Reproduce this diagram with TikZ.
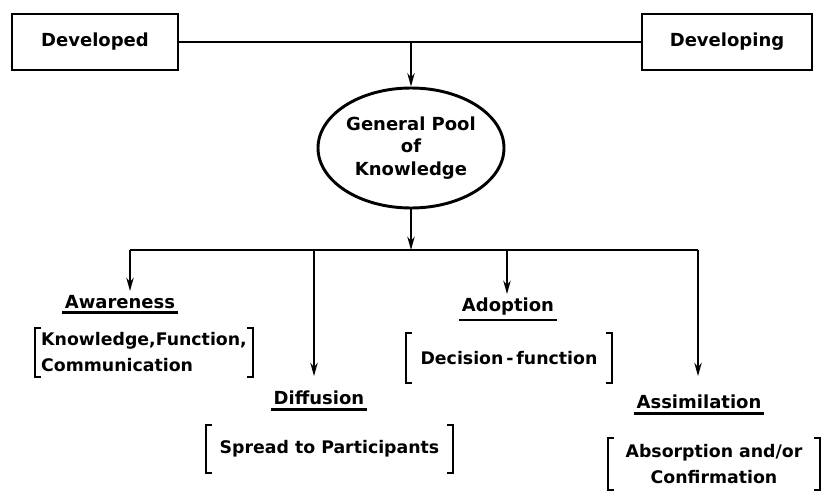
\documentclass[tikz,border=0pt]{standalone}
\usepackage{fontspec}
\setmainfont{DejaVu Sans}
\usetikzlibrary{calc,arrows.meta,shapes.geometric}
\tikzset{
 country/.style={draw, line width=2pt, minimum height=42pt, inner sep=0pt,
  font=\fontsize{13.5}{17}\selectfont\bfseries},
 pool/.style={ellipse, draw, line width=2.2pt, inner sep=0pt, minimum width=139.5pt,
  minimum height=90pt, align=center, font=\fontsize{13.5}{17}\selectfont\bfseries},
 link/.style={line width=1.5pt},
 arr/.style={link, -{Stealth[length=10pt,width=5.5pt]}},
 stage/.style={inner xsep=2pt, inner ysep=3pt, font=\fontsize{13.5}{17}\selectfont\bfseries},
 uline/.style={line width=2.2pt},
 detail/.style={inner sep=0pt, font=\fontsize{13}{19.5}\selectfont\bfseries},
 bracket/.style={line width=1.8pt},
}
\newcommand{\bracketNode}[1]{%
    \draw[bracket] ($(#1.north west)+(6,0)$) -- (#1.north west) -- (#1.south west) -- ++(6,0);
    \draw[bracket] ($(#1.north east)+(-6,0)$) -- (#1.north east) -- (#1.south east) -- ++(-6,0);
}
\newcommand{\underlineNode}[1]{%
    \draw[uline] (#1.south west) -- (#1.south east);
}
\begin{document}
\begin{tikzpicture}[x=0.75pt, y=-0.75pt]
    \useasboundingbox (0,0) rectangle (828,496);

    % sources
    \node[country, minimum width=124.5pt] (dvd) at (95,42) {Developed};
    \node[country, minimum width=127.5pt] (dvg) at (727,42) {Developing};
    \node[pool] (gpk) at (411,148) {General Pool\\of\\Knowledge};
    \coordinate (top) at (gpk.north |- dvd.east);
    \draw[link] (dvd) -- (dvg);
    \draw[arr] (top) -- (gpk);

    % distribution bus
    \coordinate (hub) at (411,250);
    \coordinate (bAw) at (130,250);
    \coordinate (bDi) at (314,250);
    \coordinate (bAd) at (507,250);
    \coordinate (bAs) at (698,250);
    \draw[arr] (gpk) -- (hub);
    \draw[link] (bAw) -- (bAs);

    % stages
    \node[stage] (aw) at (120,302) {Awareness};
    \node[stage] (di) at (319,398) {Diffusion};
    \node[stage] (ad) at (508,307) {Adoption};
    \node[stage] (as) at (699,402) {Assimilation};
    \underlineNode{aw}
    \underlineNode{di}
    \underlineNode{ad}
    \underlineNode{as}

    \draw[arr] (bAw) -- (bAw |- aw.north);
    \draw[arr, shorten >=8pt] (bDi) -- (bDi |- di.north);
    \draw[arr] (bAd) -- (bAd |- ad.north);
    \draw[arr, shorten >=11pt] (bAs) -- (bAs |- as.north);

    % details
    \node[detail, align=left, minimum width=163.5pt, minimum height=36.75pt] (awD) at (144,352.5)
        {Knowledge,Function,\\Communication};
    \node[detail, minimum width=185pt, minimum height=36pt] (diD) at (329.5,449)
        {Spread to Participants};
    \node[detail, minimum width=154.5pt, minimum height=37.5pt] (adD) at (509,358)
        {Decision\,-\,function};
    \node[detail, align=center, minimum width=159pt, minimum height=39pt] (asD) at (714,464)
        {Absorption and/or\\Confirmation};
    \bracketNode{awD}
    \bracketNode{diD}
    \bracketNode{adD}
    \bracketNode{asD}
\end{tikzpicture}
\end{document}
